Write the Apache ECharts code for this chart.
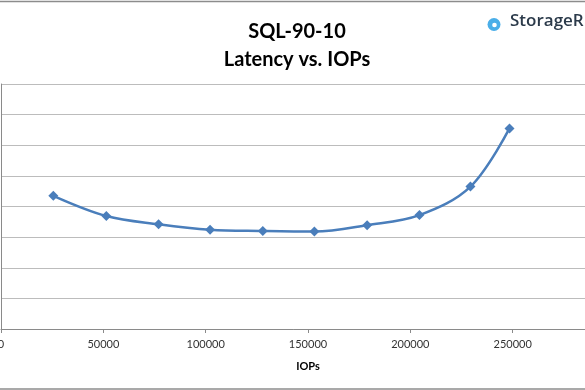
<!DOCTYPE html>
<html>
<head>
<meta charset="utf-8">
<script src="https://cdn.jsdelivr.net/npm/echarts@6/dist/echarts.min.js"></script>
<style>html,body{margin:0;padding:0;background:#fff}#c{width:585px;height:390px}</style>
</head>
<body>
<div id="c"></div>
<script>
const titleLines = ['SQL-90-10', 'Latency vs. IOPs'];
const xAxisName = 'IOPs';
const brandText = 'StorageR';
const iops = [25560, 51470, 76980, 102150, 127910, 153130, 178890, 204450, 229380, 248440];
const latency = [4.35, 3.69, 3.42, 3.24, 3.20, 3.18, 3.39, 3.72, 4.65, 6.55];

const chart = echarts.init(document.getElementById('c'), null, {renderer: 'canvas'});
chart.setOption({
  animation: false,
  backgroundColor: '#fff',
  title: {
    text: titleLines.join('\n'),
    left: 292, top: 13, textAlign: 'center',
    textStyle: {fontFamily: 'Lato', fontWeight: 'bold', fontSize: 20, lineHeight: 28, color: '#000'}
  },
  graphic: [
    {type: 'line', shape: {x1: 0, y1: 1.5, x2: 585, y2: 1.5}, style: {stroke: '#8c8c8c', lineWidth: 1.5}},
    {type: 'line', shape: {x1: 0, y1: 389, x2: 585, y2: 389}, style: {stroke: '#8c8c8c', lineWidth: 1.5}},
    {type: 'circle', shape: {cx: 494, cy: 24.5, r: 6.5}, style: {fill: '#4aaee8'}},
    {type: 'circle', shape: {cx: 494.5, cy: 25, r: 2.3}, style: {fill: '#fff'}},
    {type: 'text', left: 510, top: 13, style: {text: brandText, font: '600 17px "Open Sans"', fill: '#2b3a4a'}}
  ],
  grid: {left: 1, top: 84, width: 614, height: 245, containLabel: false, outerBoundsMode: 'none'},
  xAxis: {
    type: 'value', min: 0, max: 300000, interval: 50000,
    name: xAxisName, nameLocation: 'middle', nameGap: 32,
    nameTextStyle: {fontFamily: 'Lato', fontWeight: 'bold', fontSize: 11, color: '#000'},
    axisLine: {lineStyle: {color: '#8a8a8a', width: 1}},
    axisTick: {show: true, length: 4, lineStyle: {color: '#8a8a8a'}},
    axisLabel: {fontFamily: 'Lato', fontSize: 11, color: '#333', margin: 10, formatter: v => String(v)},
    splitLine: {show: false}
  },
  yAxis: {
    type: 'value', min: 0, max: 8, interval: 1,
    axisLine: {show: true, lineStyle: {color: '#8a8a8a', width: 1}},
    axisTick: {show: false},
    axisLabel: {show: false},
    splitLine: {lineStyle: {color: '#bcbcbc', width: 1.2}}
  },
  series: [{
    type: 'line',
    data: iops.map((x, i) => [x, latency[i]]),
    smooth: 0.35,
    symbol: 'diamond', symbolSize: 10,
    lineStyle: {color: '#4a7ebb', width: 2.5},
    itemStyle: {color: '#4a7ebb'}
  }]
});
</script>
</body>
</html>
